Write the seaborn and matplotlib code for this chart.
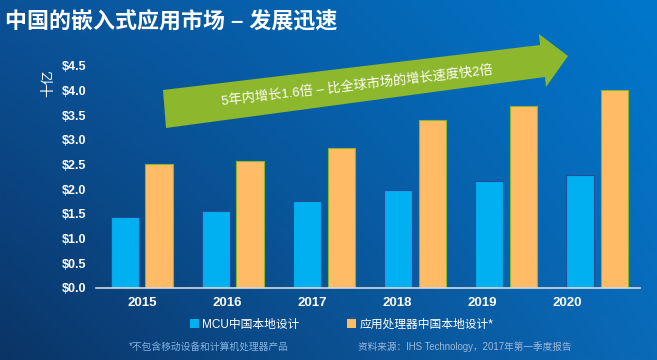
import numpy as np
import pandas as pd
import matplotlib
matplotlib.use('Agg')
import matplotlib.pyplot as plt
import matplotlib.patches as patches
import seaborn as sns

years = ['2015', '2016', '2017', '2018', '2019', '2020']
mcu = [1.43, 1.57, 1.77, 1.98, 2.16, 2.30]
app = [2.51, 2.57, 2.83, 3.40, 3.69, 4.01]
series = ['MCU中国本地设计', '应用处理器中国本地设计*']
yticks = [0.0, 0.5, 1.0, 1.5, 2.0, 2.5, 3.0, 3.5, 4.0, 4.5]

df = pd.DataFrame({'year': years * 2,
                   'value': mcu + app,
                   'series': [series[0]] * 6 + [series[1]] * 6})

sns.set_style('white')
plt.rcParams['font.family'] = ['Liberation Sans', 'Noto Sans CJK SC', 'DejaVu Sans']

W, H = 657, 360
fig = plt.figure(figsize=(W / 100, H / 100), dpi=100)

# background gradient (pixel coords, y down)
bg = fig.add_axes([0, 0, 1, 1], zorder=0)
xx, yy = np.meshgrid(np.linspace(0, 1, 200), np.linspace(0, 1, 120))
tl = np.array([0x0b, 0x52, 0x98]) / 255
tr = np.array([0x00, 0x77, 0xcc]) / 255
bl = np.array([0x0b, 0x34, 0x66]) / 255
br = np.array([0x0a, 0x6a, 0xb8]) / 255
img = ((1 - xx)[..., None] * (1 - yy)[..., None] * tl + xx[..., None] * (1 - yy)[..., None] * tr
       + (1 - xx)[..., None] * yy[..., None] * bl + xx[..., None] * yy[..., None] * br)
bg.imshow(img, extent=(0, W, H, 0), aspect='auto', interpolation='bilinear')
bg.set_xlim(0, W)
bg.set_ylim(H, 0)
bg.axis('off')

# green arrow
arrow_pts = [(163, 90), (540, 45), (539, 34), (568, 56), (546, 87), (545, 77), (166, 128)]
bg.add_patch(patches.Polygon(arrow_pts, closed=True, facecolor='#8db72c', edgecolor='none'))
bg.text(357, 86, '5年内增长1.6倍 – 比全球市场的增长速度快2倍', color='white', fontsize=9.5,
        rotation=6.6, rotation_mode='anchor', ha='center', va='center')

# main chart
ax = fig.add_axes([96 / W, 72 / H, 544 / W, 222 / H], zorder=1)
ax.patch.set_alpha(0)
sns.barplot(data=df, x='year', y='value', hue='series',
            palette=['#00b0f0', '#ffbb66'], width=0.76, gap=0.2,
            saturation=1, ax=ax)
for p in ax.patches[:6]:
    p.set_edgecolor('#1f4e9a')
    p.set_linewidth(0.8)
for p in ax.patches[6:12]:
    p.set_edgecolor('#8db52a')
    p.set_linewidth(0.8)

ax.set_xlim(-0.505, 5.47)
ax.set_ylim(0, 4.5)
ax.set_yticks(yticks, ['$' + f'{v:.1f}' for v in yticks])
ax.set_xticks(np.arange(len(years)) * 0.935, years)
ax.tick_params(axis='y', length=0, pad=7, labelsize=9, labelcolor='white')
ax.tick_params(axis='x', length=0, pad=6.5, labelsize=9.5, labelcolor='white')
for lab in ax.get_xticklabels() + ax.get_yticklabels():
    lab.set_fontweight('bold')
ax.set_xlabel('')
ax.set_ylabel('')
for s in ['top', 'right', 'left']:
    ax.spines[s].set_visible(False)
ax.spines['bottom'].set_color('#d9d9d9')
ax.spines['bottom'].set_linewidth(1.2)

handles, labels = ax.get_legend_handles_labels()
ax.get_legend().remove()
fig.legend(handles, labels, loc='center', bbox_to_anchor=(0.52, 0.097), ncol=2,
           frameon=False, fontsize=8.5, labelcolor='white', handlelength=0.8,
           handleheight=0.8, handletextpad=0.25, columnspacing=4.0)
leg = fig.legends[0]
for h in leg.legend_handles:
    h.set_edgecolor('none')

# texts
fig.text(5 / W, 1 - 22 / H, '中国的嵌入式应用市场 – 发展迅速', color='white', fontsize=15.8,
         fontweight='bold', ha='left', va='center')
fig.text(48 / W, 1 - 83 / H, '十亿', color='white', fontsize=10, rotation=90,
         ha='center', va='center')
fig.text(129 / W, 1 - 347 / H, '*不包含移动设备和计算机处理器产品', color='#86b4e2',
         fontsize=7, ha='left', va='center')
fig.text(358 / W, 1 - 347 / H, '资料来源：IHS Technology，2017年第一季度报告', color='#9db7d8',
         fontsize=6.9, ha='left', va='center')

fig.savefig('out.png', dpi=100)
